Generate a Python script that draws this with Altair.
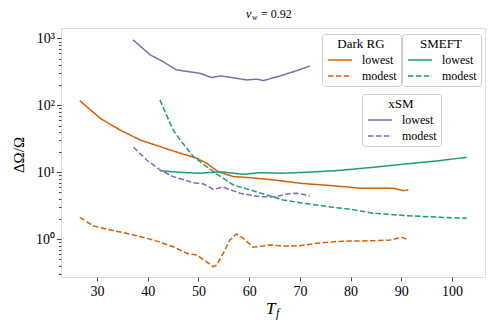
import altair as alt
import pandas as pd

# ---- data ----
darkrg_low_T = [26.6, 30.6, 34.5, 38.5, 44.4, 49.7, 51.6, 53.9, 56.9, 60.2, 64.8, 70.0, 74.6, 79.9, 81.9, 86.5, 88.4, 90.4, 91.4]
darkrg_low_V = [118, 64.5, 43, 30.5, 21.6, 16.2, 13.7, 10.2, 8.63, 8.32, 7.7, 6.87, 6.47, 6.0, 5.78, 5.78, 5.8, 5.33, 5.46]

darkrg_mod_T = [26.6, 29.3, 33.2, 37.2, 41.1, 45.0, 47.7, 49.7, 51.6, 52.9, 53.6, 54.9, 56.2, 57.5, 58.8, 60.8, 64.1, 67.4, 70.0, 73.3, 76.6, 79.9, 84.5, 87.8, 90.1, 91.4]
darkrg_mod_V = [2.13, 1.58, 1.35, 1.16, 0.976, 0.775, 0.617, 0.58, 0.46, 0.39, 0.41, 0.62, 0.976, 1.2, 1.04, 0.76, 0.82, 0.79, 0.80, 0.87, 0.92, 0.94, 0.95, 0.976, 1.07, 0.976]

smeft_low_T = [42.4, 46.4, 50.3, 54.3, 58.9, 62.1, 66.7, 73.3, 77.9, 84.5, 91.1, 97.7, 102.9]
smeft_low_V = [10.6, 10.0, 9.7, 10.2, 9.35, 9.9, 9.7, 10.2, 10.7, 11.9, 13.4, 15.0, 16.8]

smeft_mod_T = [42.4, 45.0, 46.4, 49.0, 51.6, 53.9, 56.9, 60.2, 63.5, 66.7, 70.0, 73.3, 76.6, 79.9, 84.5, 91.1, 97.7, 102.9]
smeft_mod_V = [121, 43, 30.5, 17.2, 12.2, 9.13, 6.47, 5.46, 4.59, 3.87, 3.52, 3.26, 3.0, 2.81, 2.45, 2.25, 2.13, 2.06]

xsm_low_T = [37.1, 40.5, 43.0, 45.7, 50.3, 52.6, 54.3, 56.2, 59.5, 61.5, 62.8, 66.1, 69.4, 72.0]
xsm_low_V = [955, 569, 452, 339, 302, 261, 276, 264, 240, 247, 235, 276, 331, 389]

xsm_mod_T = [37.2, 39.8, 42.4, 45.0, 49.0, 51.0, 52.9, 54.9, 58.2, 62.1, 65.4, 67.4, 69.4, 72.0]
xsm_mod_V = [23.7, 15.3, 10.9, 8.63, 7.0, 6.7, 5.6, 6.0, 4.87, 4.33, 4.33, 4.75, 4.87, 4.49]

x_ticks = [30, 40, 50, 60, 70, 80, 90, 100]
y_ticks = [m * 10 ** e for e in (-1, 0, 1, 2) for m in range(1, 10)] + [1000]
y_ticks = [v for v in y_ticks if v >= 0.3]

models = ["Dark RG", "SMEFT", "xSM"]
colors = {"Dark RG": "#d95f02", "SMEFT": "#1b9e77", "xSM": "#7570b3"}
levels = ["lowest", "modest"]


def frame(model, level, T, V):
    return pd.DataFrame({"model": model, "level": level, "T": T, "V": V})


data = {
    "Dark RG": pd.concat([frame("Dark RG", "lowest", darkrg_low_T, darkrg_low_V),
                          frame("Dark RG", "modest", darkrg_mod_T, darkrg_mod_V)]),
    "SMEFT": pd.concat([frame("SMEFT", "lowest", smeft_low_T, smeft_low_V),
                        frame("SMEFT", "modest", smeft_mod_T, smeft_mod_V)]),
    "xSM": pd.concat([frame("xSM", "lowest", xsm_low_T, xsm_low_V),
                      frame("xSM", "modest", xsm_mod_T, xsm_mod_V)]),
}

legend_pos = {"Dark RG": (261, 6), "SMEFT": (341, 6), "xSM": (301, 66)}

FONT = "Liberation Serif"

xscale = alt.Scale(domain=[22.9, 106.5], nice=False, zero=False)
yscale = alt.Scale(type="log", domain=[0.273, 1435], nice=False)

label_expr = ("datum.value == 1 ? '10⁰' : datum.value == 10 ? '10¹' : "
              "datum.value == 100 ? '10²' : datum.value == 1000 ? '10³' : ''")
major_test = "abs(log(datum.value)/LN10 - round(log(datum.value)/LN10)) < 0.001"

x_axis = alt.Axis(values=x_ticks, title=None, grid=False, tickSize=4,
                  labelFont=FONT, labelFontSize=14, labelColor="#000",
                  domain=False, tickColor="#444", labelPadding=3)
y_axis = alt.Axis(values=y_ticks, title=None, grid=False, labelExpr=label_expr,
                  labelOverlap=False, labelFont=FONT, labelFontSize=14,
                  labelColor="#000", domain=False, tickColor="#444",
                  tickSize={"condition": {"test": major_test, "value": 4.5}, "value": 2.5},
                  labelPadding=2)

layers = []
for i, m in enumerate(models):
    lx, ly = legend_pos[m]
    layer = alt.Chart(data[m]).mark_line(color=colors[m], strokeWidth=1.5, clip=True).encode(
        x=alt.X("T:Q", scale=xscale, axis=x_axis),
        y=alt.Y("V:Q", scale=yscale, axis=y_axis),
        strokeDash=alt.StrokeDash(
            "level:N",
            scale=alt.Scale(domain=levels, range=[[1, 0], [5.5, 2.4]]),
            legend=alt.Legend(
                title=m, orient="none", legendX=lx, legendY=ly,
                titleAnchor="middle", titleFont=FONT, titleFontSize=13,
                titleFontWeight="normal", titleColor="#000", titlePadding=3,
                labelFont=FONT, labelFontSize=12, labelColor="#000",
                symbolType="M-1,0H5", symbolStrokeColor=colors[m],
                symbolStrokeWidth=1.5, symbolSize=64, symbolOffset=0,
                strokeColor="#cccccc", fillColor="white", padding=4,
                cornerRadius=3, rowPadding=4, labelOffset=24,
            ),
        ),
        detail="level:N",
    )
    layers.append(layer)

dummy = pd.DataFrame({"a": [0]})
texts = [
    alt.Chart(dummy).mark_text(text="v", font=FONT, fontSize=12, fontStyle="italic",
                               align="left", baseline="alphabetic").encode(
        x=alt.value(185), y=alt.value(-10)),
    alt.Chart(dummy).mark_text(text="w", font=FONT, fontSize=8, fontStyle="italic",
                               align="left", baseline="alphabetic").encode(
        x=alt.value(191), y=alt.value(-8)),
    alt.Chart(dummy).mark_text(text="= 0.92", font=FONT, fontSize=12,
                               align="left", baseline="alphabetic").encode(
        x=alt.value(200), y=alt.value(-10)),
    alt.Chart(dummy).mark_text(text="T", font=FONT, fontSize=17, fontStyle="italic",
                               align="left", baseline="alphabetic").encode(
        x=alt.value(205), y=alt.value(286)),
    alt.Chart(dummy).mark_text(text="f", font=FONT, fontSize=12, fontStyle="italic",
                               align="left", baseline="alphabetic").encode(
        x=alt.value(215), y=alt.value(289)),
    alt.Chart(dummy).mark_text(text="ΔΩ/Ω", font=FONT, fontSize=15, angle=270,
                               align="center", baseline="middle").encode(
        x=alt.value(-42), y=alt.value(127)),
]

chart = alt.layer(*layers, *texts).resolve_scale(
    strokeDash="independent"
).resolve_legend(
    strokeDash="independent"
).properties(
    width=424, height=249,
    autosize=alt.AutoSizeParams(type="none"),
    padding={"left": 53, "top": 20, "right": 5, "bottom": 50},
).configure_view(
    stroke="#444", strokeWidth=1.2
).configure(background="white")

chart.save("out.html", embed_options={"renderer": "svg", "actions": False})
